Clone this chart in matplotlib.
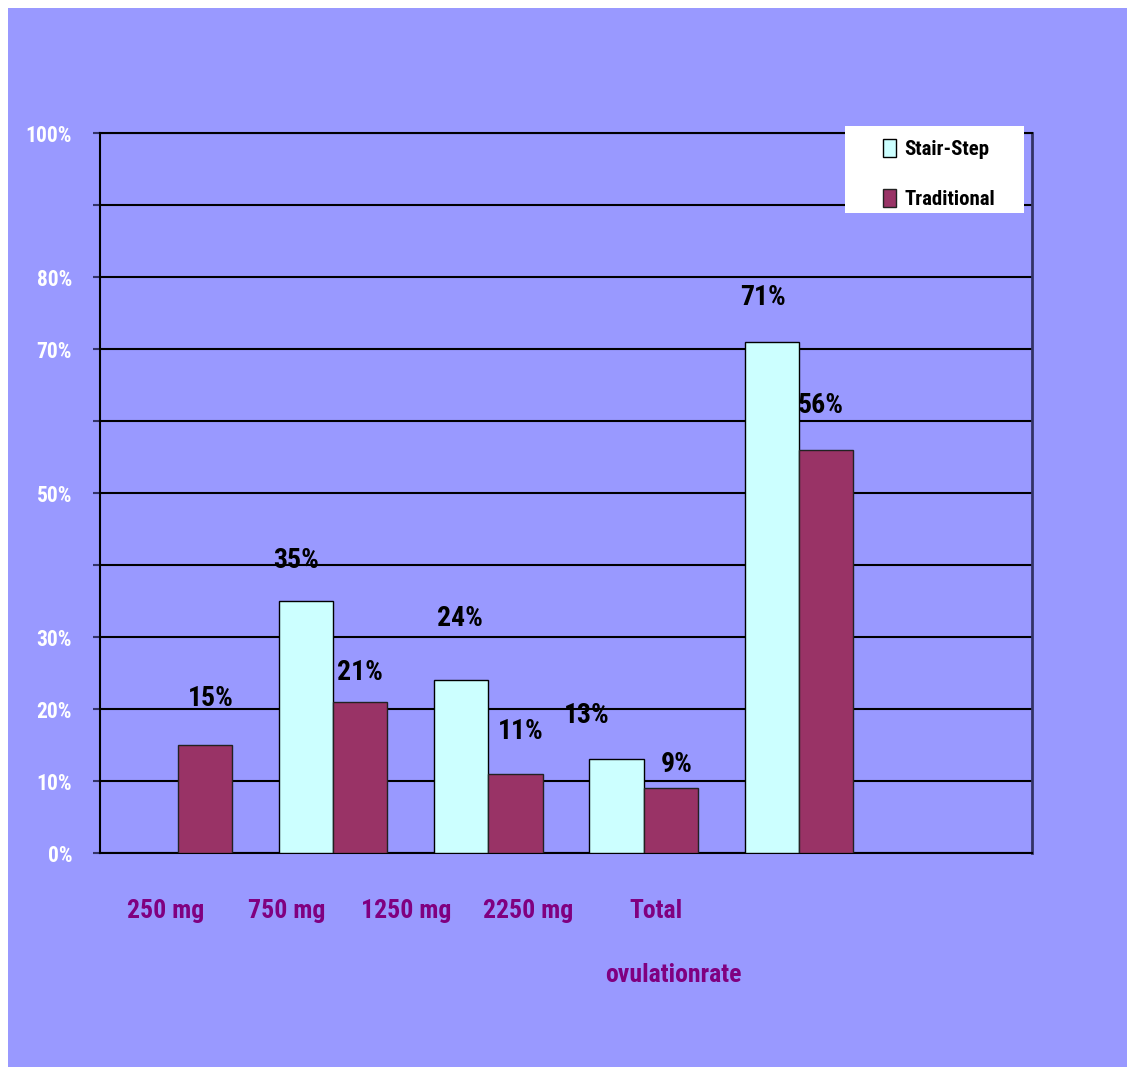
import matplotlib
matplotlib.use("Agg")
import matplotlib.pyplot as plt
from matplotlib.patches import Rectangle
import numpy as np

# Data
groups = ["250 mg", "750 mg", "1250 mg", "2250 mg", "Total"]
stair_step = [np.nan, 35, 24, 13, 71]
traditional = [15, 21, 11, 9, 56]
stair_labels = ["", "35%", "24%", "13%", "71%"]
trad_labels = ["15%", "21%", "11%", "9%", "56%"]
ytick_vals = [0, 10, 20, 30, 40, 50, 60, 70, 80, 90, 100]
ytick_text = ["0%", "10%", "20%", "30%", "", "50%", "", "70%", "80%", "", "100%"]
series_names = ["Stair-Step", "Traditional"]

# fonts: a narrow bold face like the original slide
plt.rcParams["font.family"] = ["Roboto Condensed", "Liberation Sans", "DejaVu Sans"]
plt.rcParams["font.weight"] = "bold"

W, H = 1127, 1067
fig = plt.figure(figsize=(W / 100, H / 100), dpi=100, facecolor="white")
fig.patches.append(Rectangle((8 / W, 0), 1, 1 - 8 / H, transform=fig.transFigure,
                             facecolor="#9999FF", edgecolor="none", zorder=-10))

ax = fig.add_axes([100 / W, 1 - 853 / H, 932 / W, 720 / H])
ax.set_facecolor("none")

x = np.arange(len(groups)) + 0.5
w = 0.35
b1 = ax.bar(x - w / 2, stair_step, w, color="#CCFFFF", edgecolor="black", linewidth=1, zorder=3)
b2 = ax.bar(x + w / 2, traditional, w, color="#993366", edgecolor="#222222", linewidth=1, zorder=3)

# value labels (pixel offsets from bar top)
stair_off = [(0, 0), (-10, 41), (-1, 62), (-30, 44), (-9, 44)]
trad_off = [(6, 47), (0, 29), (5, 42), (6, 24), (-5, 44)]
for xi, v, t, o in zip(x - w / 2, stair_step, stair_labels, stair_off):
    if t:
        ax.annotate(t, (xi, v), xytext=o, textcoords="offset pixels",
                    ha="center", va="center", fontsize=20, fontweight="bold", color="black")
for xi, v, t, o in zip(x + w / 2, traditional, trad_labels, trad_off):
    ax.annotate(t, (xi, v), xytext=o, textcoords="offset pixels",
                ha="center", va="center", fontsize=20, fontweight="bold", color="black")

ax.set_xlim(0, 6)
ax.set_ylim(0, 100)
ax.set_yticks(ytick_vals)
ax.set_yticklabels(ytick_text)
ax.tick_params(axis="y", length=5, width=1.5, color="#333366", pad=15,
               labelsize=15.5, labelcolor="white")
for lab in ax.get_yticklabels():
    lab.set_fontweight("bold")
    lab.set_verticalalignment("center_baseline")
ax.set_xticks([])
ax.yaxis.grid(True, color="black", linewidth=1.5, zorder=0)
ax.set_axisbelow(True)
for s in ["left", "bottom", "top"]:
    ax.spines[s].set_color("black")
    ax.spines[s].set_linewidth(1.5)
ax.spines["right"].set_color("#333366")
ax.spines["right"].set_linewidth(2)

# category labels (offset from the bars, as in the original slide)
cat_x = [0.42, 1.2, 1.97, 2.755, 3.58]
for cx, g in zip(cat_x, groups):
    ax.text(cx, -8.0, g, ha="center", va="center", fontsize=18.5,
            fontweight="bold", color="#800080", clip_on=False)
ax.text(3.69, -16.9, "ovulationrate", ha="center", va="center", fontsize=18.5,
        fontweight="bold", color="#800080", clip_on=False)

# legend
fig.patches.append(Rectangle((845 / W, 1 - 213 / H), 179 / W, 87 / H, transform=fig.transFigure,
                             facecolor="white", edgecolor="none", zorder=5))
leg = fig.legend([b1, b2], series_names, loc="upper left",
                 bbox_to_anchor=(873 / W, 1 - 129 / H), frameon=False,
                 fontsize=15, handlelength=0.6, handleheight=0.9,
                 handletextpad=0.4, labelspacing=1.45, borderpad=0)
leg.set_zorder(6)
for t in leg.get_texts():
    t.set_fontweight("bold")

fig.savefig("out.png", dpi=100, facecolor="white")
